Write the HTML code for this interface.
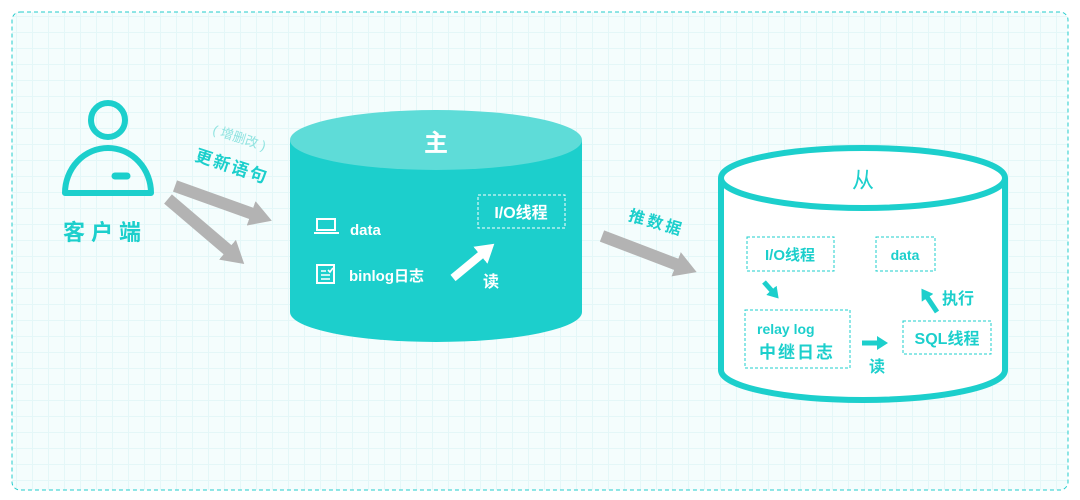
<!DOCTYPE html>
<html><head><meta charset="utf-8"><style>
html,body{margin:0;padding:0;background:#fff;}
svg{display:block;}
text{font-family:"Liberation Sans","Noto Sans CJK SC",sans-serif;}
</style></head><body>
<svg width="1080" height="500" viewBox="0 0 1080 500" xmlns="http://www.w3.org/2000/svg">
<defs>
<pattern id="g" width="16" height="16" patternUnits="userSpaceOnUse">
<rect width="16" height="16" fill="#f4fdfd"/>
<path d="M0 0H16M0 0V16" stroke="#e4f7f8" stroke-width="2"/>
</pattern>
<marker id="ga" markerWidth="24" markerHeight="26" refX="2" refY="13" orient="auto" markerUnits="userSpaceOnUse"><path d="M0,0 L22,13 L0,26Z" fill="#b3b3b3"/></marker>
<marker id="wa" markerWidth="20" markerHeight="22" refX="2" refY="11" orient="auto" markerUnits="userSpaceOnUse"><path d="M0,0 L18,11 L0,22Z" fill="#fff"/></marker>
<marker id="ca" markerWidth="12" markerHeight="14" refX="1" refY="7" orient="auto" markerUnits="userSpaceOnUse"><path d="M0,0 L11,7 L0,14Z" fill="#1ccfcc"/></marker>
</defs>
<rect width="1080" height="500" fill="#fff"/>
<rect x="12" y="12" width="1056" height="478" rx="8" fill="url(#g)" stroke="#22cccc" stroke-width="1" stroke-dasharray="4 3"/>

<!-- person -->
<circle cx="108" cy="120" r="17" fill="none" stroke="#1ccfcc" stroke-width="6"/>
<path d="M65 193 A43 45 0 0 1 151 193 Z" fill="none" stroke="#1ccfcc" stroke-width="6" stroke-linejoin="round"/>
<line x1="115" y1="176" x2="127" y2="176" stroke="#1ccfcc" stroke-width="7" stroke-linecap="round"/>
<text x="105" y="240" font-size="22" fill="#1ccfcc" text-anchor="middle" letter-spacing="6" font-weight="bold">客户端</text>

<text x="238" y="142" font-size="13" fill="#8fe3e0" text-anchor="middle" transform="rotate(18 238 142)">( 增删改 )</text>
<text x="230" y="172" font-size="17" fill="#1ccfcc" text-anchor="middle" transform="rotate(18 230 172)" letter-spacing="2" font-weight="bold">更新语句</text>

<line x1="175" y1="186" x2="253" y2="214" stroke="#b3b3b3" stroke-width="12" marker-end="url(#ga)"/>
<line x1="168" y1="199" x2="229" y2="251" stroke="#b3b3b3" stroke-width="12" marker-end="url(#ga)"/>

<!-- master cylinder -->
<path d="M290 140 V312 A146 30 0 0 0 582 312 V140 Z" fill="#1ccfcc"/>
<ellipse cx="436" cy="140" rx="146" ry="30" fill="#5edcd8"/>
<text x="436" y="151" font-size="24" fill="#fff" text-anchor="middle" font-weight="bold">主</text>
<rect x="317" y="219" width="18" height="11" fill="none" stroke="#fff" stroke-width="2"/>
<line x1="314" y1="233" x2="339" y2="233" stroke="#fff" stroke-width="2"/>
<text x="350" y="235" font-size="15" fill="#fff" font-weight="bold">data</text>
<rect x="317" y="265" width="17" height="18" fill="none" stroke="#fff" stroke-width="2"/>
<path d="M321 271h5M321 275h9M321 279h9M328 270l2 2 3-4" stroke="#fff" stroke-width="1.6" fill="none"/>
<text x="349" y="281" font-size="15" fill="#fff" font-weight="bold">binlog日志</text>
<rect x="478" y="195" width="87" height="33" fill="none" stroke="#fff" stroke-width="1" stroke-dasharray="3 2"/>
<text x="521" y="218" font-size="16" fill="#fff" text-anchor="middle" font-weight="bold">I/O线程</text>
<line x1="453" y1="278" x2="482" y2="254" stroke="#fff" stroke-width="8" marker-end="url(#wa)"/>
<text x="491" y="287" font-size="16" fill="#fff" text-anchor="middle" font-weight="bold">读</text>

<!-- push -->
<text x="655" y="228" font-size="16" fill="#1ccfcc" text-anchor="middle" font-weight="bold" transform="rotate(16 655 228)" letter-spacing="3">推数据</text>
<line x1="602" y1="236" x2="678" y2="265" stroke="#b3b3b3" stroke-width="12" marker-end="url(#ga)"/>

<!-- slave cylinder -->
<path d="M721 178 V370 A142 30 0 0 0 1005 370 V178" fill="#fff" stroke="#1ccfcc" stroke-width="6"/>
<ellipse cx="863" cy="178" rx="142" ry="30" fill="#fff" stroke="#1ccfcc" stroke-width="6"/>
<text x="863" y="188" font-size="22" fill="#1ccfcc" text-anchor="middle">从</text>
<g fill="none" stroke="#1ccfcc" stroke-width="1" stroke-dasharray="3 2">
<rect x="747" y="237" width="87" height="34"/>
<rect x="876" y="237" width="59" height="34"/>
<rect x="745" y="310" width="105" height="58"/>
<rect x="903" y="321" width="88" height="33"/>
</g>
<g fill="#1ccfcc" font-weight="bold">
<text x="790" y="260" font-size="15" text-anchor="middle">I/O线程</text>
<text x="905" y="260" font-size="14" text-anchor="middle">data</text>
<text x="757" y="334" font-size="14">relay log</text>
<text x="759" y="358" font-size="17" letter-spacing="2">中继日志</text>
<text x="947" y="344" font-size="16" text-anchor="middle">SQL线程</text>
<text x="877" y="372" font-size="16" text-anchor="middle">读</text>
<text x="958" y="304" font-size="16" text-anchor="middle">执行</text>
</g>
<line x1="764" y1="282" x2="772" y2="291" stroke="#1ccfcc" stroke-width="5" marker-end="url(#ca)"/>
<line x1="862" y1="343" x2="878" y2="343" stroke="#1ccfcc" stroke-width="5" marker-end="url(#ca)"/>
<line x1="937" y1="312" x2="927" y2="297" stroke="#1ccfcc" stroke-width="5" marker-end="url(#ca)"/>
</svg>
</body></html>
